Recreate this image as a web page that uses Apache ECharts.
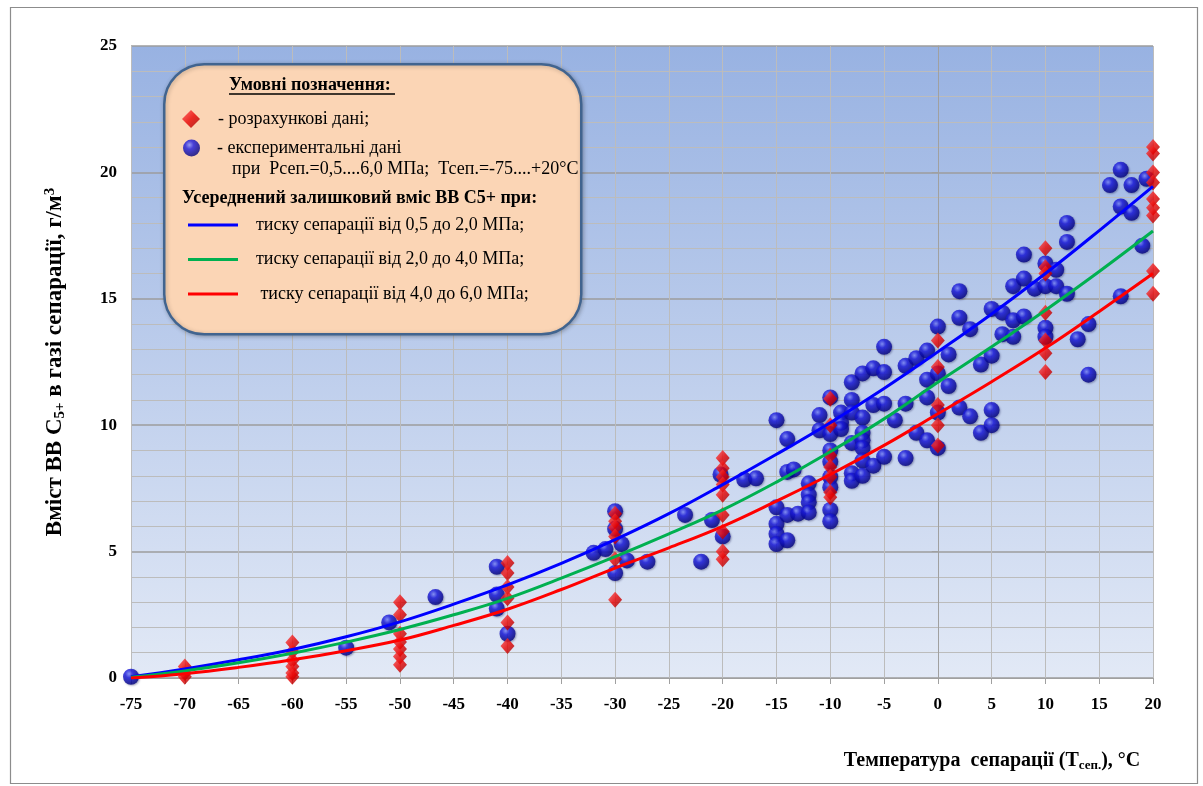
<!DOCTYPE html>
<html><head><meta charset="utf-8">
<script src="https://cdn.jsdelivr.net/npm/echarts@6/dist/echarts.min.js"></script>
<style>html,body{margin:0;padding:0;background:#fff}#c{width:1203px;height:786px}</style>
</head><body><div id="c"></div>
<script>
// ---- data ----
const xTicks = [-75,-70,-65,-60,-55,-50,-45,-40,-35,-30,-25,-20,-15,-10,-5,0,5,10,15,20];
const yTicks = [0,5,10,15,20,25];

// calculated data (red diamonds)
const calcT = [
 -70,-70,-70,
 -60,-60,-60,-60,-60,-60,
 -50,-50,-50,-50,-50,-50,-50,
 -40,-40,-40,-40,-40,-40,
 -30,-30,-30,-30,-30,-30,
 -20,-20,-20,-20,-20,-20,-20,-20,-20,
 -10,-10,-10,-10,-10,-10,-10,
 0,0,0,0,0,
 10,10,10,10,10,10,10,
 20,20,20,20,20,20,20,20,20
];
const calcV = [
 0.45,0.2,0.05,
 1.4,1.05,0.7,0.45,0.2,0.05,
 3.0,2.5,1.75,1.42,1.15,0.85,0.52,
 4.55,4.15,3.6,3.15,2.2,1.27,
 6.5,6.2,5.95,5.6,4.7,3.1,
 8.7,8.3,7.95,7.65,7.25,6.45,5.8,5.0,4.7,
 11.05,10.0,8.8,8.35,7.95,7.35,7.15,
 13.35,12.3,10.8,10.0,9.2,
 17.0,16.25,16.0,14.45,13.35,12.85,12.1,
 21.0,20.75,20.0,19.6,18.95,18.6,18.3,16.1,15.2
];

// experimental data (blue balls)
const expT = [
 -75,-55,-51,-46.7,-41,-41,-41,-40,
 -32,-30.9,-30,-30,-29.4,-28.9,-30,-27,
 -23.5,-22,-21,-20,-20.2,-18,-16.9,
 -15,-14,-14,-13.4,-15,-15,-15,-15,-14,-14,-13,
 -12,-12,-12,-12,-11,-11,
 -10,-10,-10,-10,-10,-10,-10,-10,
 -9,-9,-9,
 -8,-8,-8,-8,-8,-8,
 -7,-7,-7,-7,-7,-7,-7,
 -6,-6,-6,-5,-5,-5,-5,-4,
 -3,-3,-3,-2,-2,-1,-1,-1,-1,
 0,0,0,0,1,1,2,2,2,3,3,4,4,
 5,5,5,5,6,6,7,7,7,8,8,8,9,
 10,10,10,10,11,11,12,12,12,13,14,14,
 16,17,17,17,18,18,19,19.4
];
const expV = [
 0.05,1.2,2.2,3.2,4.4,3.3,2.75,1.75,
 4.95,5.1,6.6,5.9,5.3,4.65,4.15,4.6,
 6.45,4.6,6.25,5.6,8.05,7.85,7.9,
 10.2,9.45,8.15,8.25,6.75,6.1,5.7,5.3,6.45,5.45,6.5,
 7.7,7.25,6.95,6.55,10.4,9.8,
 11.1,9.65,9.0,8.55,7.95,7.55,6.65,6.2,
 10.5,10.1,9.85,
 11.7,11.0,10.5,9.3,8.1,7.8,
 12.05,10.3,9.7,9.4,9.1,8.6,8.0,
 12.25,10.8,8.4,13.1,12.1,10.85,8.75,10.2,
 12.35,10.85,8.7,12.65,9.7,12.95,11.8,11.1,9.4,
 13.9,12.05,10.5,9.1,12.8,11.55,15.3,14.25,10.7,13.8,10.35,12.4,9.7,
 14.6,12.75,10.6,10.0,14.45,13.6,15.5,14.15,13.5,16.75,15.8,14.3,15.4,
 16.4,15.5,13.85,13.5,16.15,15.5,18.0,17.25,15.2,13.4,14.0,12.0,
 19.5,20.1,18.65,15.1,19.5,18.4,17.1,19.75
];

// averaged curves (read every 5 °C)
const curveT    = [-75,-70,-65,-60,-55,-50,-45,-40,-35,-30,-25,-20,-15,-10,-5,0,5,10,15,20];
const curveLowP = [0.05,0.36,0.72,1.13,1.63,2.22,2.92,3.68,4.53,5.47,6.5,7.65,8.85,10.1,11.45,12.9,14.4,16.0,17.7,19.45];
const curveMidP = [0.03,0.28,0.6,0.98,1.42,1.92,2.5,3.15,3.95,4.8,5.7,6.65,7.75,8.95,10.25,11.7,13.1,14.55,16.08,17.68];
const curveHiP  = [0.0,0.17,0.42,0.72,1.08,1.5,2.08,2.72,3.5,4.35,5.15,6.0,7.0,8.05,9.2,10.45,11.72,13.05,14.5,16.0];

const calcName = '- розрахункові дані;';
const expName = '- експериментальні дані';
const lowName = 'тиску сепарації від 0,5 до 2,0 МПа;';
const midName = 'тиску сепарації від 2,0 до 4,0 МПа;';
const hiName  = ' тиску сепарації від 4,0 до 6,0 МПа;';

const zip = (a, b) => a.map((v, i) => [v, b[i]]);
const SERIF = '"Liberation Serif", "DejaVu Serif", serif';

const ballColor = {type:'radial', x:0.38, y:0.32, r:0.7, colorStops:[
  {offset:0, color:'#7f8cff'}, {offset:0.35, color:'#1a1ae0'}, {offset:1, color:'#00007a'}]};
const diamondColor = {type:'linear', x:0, y:0, x2:1, y2:1, colorStops:[
  {offset:0, color:'#ff5a5a'}, {offset:0.5, color:'#e80000'}, {offset:1, color:'#980000'}]};

const chart = echarts.init(document.getElementById('c'));
chart.setOption({
  animation: false,
  backgroundColor: '#ffffff',
  grid: {
    left: 131, right: 50, top: 46, bottom: 108,
    show: true, borderWidth: 0,
    backgroundColor: {type:'linear', x:0, y:0, x2:0, y2:1, colorStops:[
      {offset:0, color:'#98b2e2'}, {offset:1, color:'#e2e9f6'}]}
  },
  xAxis: {
    type: 'value', min: -75, max: 20, interval: 5,
    name: 'Температура  сепарації (T{sub|сеп.}), °С',
    nameLocation: 'middle', nameGap: 71,
    nameTextStyle: {
      fontFamily: SERIF, fontWeight: 'bold', fontSize: 20, color: '#000',
      padding: [0, 0, 0, 700],
      rich: { sub: {fontFamily: SERIF, fontWeight: 'bold', fontSize: 13, color: '#000', padding: [10, 0, 0, 0]} }
    },
    axisLine: {lineStyle: {color: '#a0a0a0', width: 1}},
    axisTick: {show: true, length: 6, lineStyle: {color: '#a0a0a0'}},
    axisLabel: {fontFamily: SERIF, fontWeight: 'bold', fontSize: 17, color: '#000', margin: 18},
    splitLine: {show: true, lineStyle: {color: '#bcbcbc', width: 1}}
  },
  yAxis: {
    type: 'value', min: 0, max: 25, interval: 5,
    name: 'Вміст ВВ С{sub|5+} в газі сепарації, г/м{sup|3}',
    nameLocation: 'middle', nameGap: 63,
    nameTextStyle: {
      fontFamily: SERIF, fontWeight: 'bold', fontSize: 23, color: '#000',
      rich: {
        sub: {fontFamily: SERIF, fontWeight: 'bold', fontSize: 15, color: '#000', padding: [10, 0, 0, 0]},
        sup: {fontFamily: SERIF, fontWeight: 'bold', fontSize: 15, color: '#000', padding: [0, 0, 10, 0]}
      }
    },
    axisLine: {show: true, lineStyle: {color: '#a0a0a0', width: 1}},
    axisTick: {show: true, length: 6, lineStyle: {color: '#a0a0a0'}},
    axisLabel: {fontFamily: SERIF, fontWeight: 'bold', fontSize: 17, color: '#000', margin: 14},
    splitLine: {show: true, lineStyle: {color: '#9c9c9c', width: 1.5}},
    minorTick: {show: false, splitNumber: 5},
    minorSplitLine: {show: true, lineStyle: {color: '#bcbcbc', width: 1}}
  },
  legend: [
    {data: [calcName], left: 177, top: 105, itemWidth: 18, itemHeight: 18,
     textStyle: {fontFamily: SERIF, fontSize: 18, color: '#000', padding: [0, 0, 0, 13]}},
    {data: [expName], left: 178, top: 134, itemWidth: 17, itemHeight: 17,
     textStyle: {fontFamily: SERIF, fontSize: 18, color: '#000', padding: [0, 0, 0, 12]}},
    {data: [lowName, midName, hiName], left: 183, top: 211, orient: 'vertical', itemGap: 16.5,
     itemWidth: 50, itemHeight: 3, icon: 'rect',
     textStyle: {fontFamily: SERIF, fontSize: 18, color: '#000', padding: [0, 0, 0, 13]}}
  ],
  graphic: [
    {type: 'rect', left: 8, top: 5, z: 0, silent: true,
     shape: {width: 1187, height: 776}, style: {fill: null, stroke: '#8c8c8c', lineWidth: 1.2}},
    {type: 'rect', left: 163, top: 63, z: 3, silent: true,
     shape: {width: 417, height: 270, r: 40},
     style: {fill: '#fbd5b5', stroke: '#41648f', lineWidth: 2.5, shadowBlur: 4, shadowColor: 'rgba(0,0,0,0.25)', shadowOffsetX: 1, shadowOffsetY: 1}},
    {type: 'text', left: 229, top: 76, z: 5, silent: true,
     style: {text: 'Умовні позначення:', font: 'bold 18px ' + SERIF, fill: '#000'}},
    {type: 'line', z: 5, silent: true,
     shape: {x1: 229, y1: 94, x2: 395, y2: 94}, style: {stroke: '#000', lineWidth: 1.3}},
    {type: 'text', left: 232, top: 160, z: 5, silent: true,
     style: {text: 'при  Рсеп.=0,5....6,0 МПа;  Тсеп.=-75....+20°С', font: '18px ' + SERIF, fill: '#000'}},
    {type: 'text', left: 182, top: 189, z: 5, silent: true,
     style: {text: 'Усереднений залишковий вміс ВВ С5+ при:', font: 'bold 18px ' + SERIF, fill: '#000'}}
  ],
  series: [
    {name: expName, type: 'scatter', data: zip(expT, expV), symbol: 'circle', symbolSize: 16, z: 2,
     itemStyle: {color: ballColor, shadowBlur: 2, shadowColor: 'rgba(0,0,60,0.4)', shadowOffsetX: 1, shadowOffsetY: 1}},
    {name: calcName, type: 'scatter', data: zip(calcT, calcV), symbol: 'diamond', symbolSize: [14, 16], z: 3,
     itemStyle: {color: diamondColor}},
    {name: lowName, type: 'line', data: zip(curveT, curveLowP), smooth: 0.4, showSymbol: false, symbol: 'none', z: 4,
     lineStyle: {color: '#0000ff', width: 3}, itemStyle: {color: '#0000ff'}},
    {name: midName, type: 'line', data: zip(curveT, curveMidP), smooth: 0.4, showSymbol: false, symbol: 'none', z: 4,
     lineStyle: {color: '#00b050', width: 3}, itemStyle: {color: '#00b050'}},
    {name: hiName, type: 'line', data: zip(curveT, curveHiP), smooth: 0.4, showSymbol: false, symbol: 'none', z: 4,
     lineStyle: {color: '#ff0000', width: 3}, itemStyle: {color: '#ff0000'}}
  ]
});
</script>
</body></html>
